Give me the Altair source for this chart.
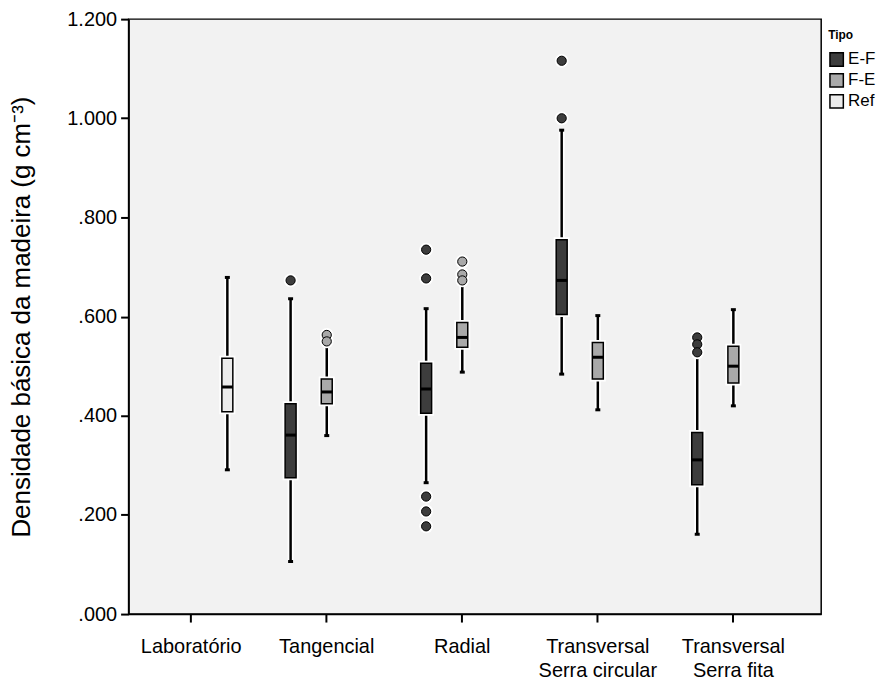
import altair as alt
import pandas as pd

categories = ["Laboratório", "Tangencial", "Radial", "Transversal\nSerra circular", "Transversal\nSerra fita"]
types = ["E-F", "F-E", "Ref"]
colors = ["#3d3d3d", "#a9a9a9", "#ececec"]

# box statistics
box_cat = ["Laboratório", "Tangencial", "Tangencial", "Radial", "Radial",
           "Transversal\nSerra circular", "Transversal\nSerra circular",
           "Transversal\nSerra fita", "Transversal\nSerra fita"]
box_type = ["Ref", "E-F", "F-E", "E-F", "F-E", "E-F", "F-E", "E-F", "F-E"]
whisk_lo = [0.291, 0.106, 0.360, 0.265, 0.488, 0.484, 0.412, 0.161, 0.420]
q1 = [0.408, 0.275, 0.424, 0.405, 0.538, 0.604, 0.474, 0.261, 0.466]
med = [0.458, 0.361, 0.448, 0.454, 0.558, 0.673, 0.518, 0.311, 0.500]
q3 = [0.516, 0.424, 0.474, 0.506, 0.588, 0.755, 0.548, 0.366, 0.540]
whisk_hi = [0.679, 0.636, 0.542, 0.616, 0.665, 0.976, 0.602, 0.520, 0.614]

# outliers
out_cat = ["Tangencial", "Tangencial", "Tangencial",
           "Radial", "Radial", "Radial", "Radial", "Radial",
           "Radial", "Radial", "Radial",
           "Transversal\nSerra circular", "Transversal\nSerra circular",
           "Transversal\nSerra fita", "Transversal\nSerra fita", "Transversal\nSerra fita"]
out_type = ["E-F", "F-E", "F-E",
            "E-F", "E-F", "E-F", "E-F", "E-F",
            "F-E", "F-E", "F-E",
            "E-F", "E-F",
            "E-F", "E-F", "E-F"]
out_val = [0.673, 0.563, 0.550,
           0.735, 0.677, 0.237, 0.207, 0.177,
           0.711, 0.685, 0.673,
           1.116, 1.000,
           0.558, 0.544, 0.528]

boxes = pd.DataFrame({"cat": box_cat, "type": box_type, "lo": whisk_lo, "q1": q1,
                      "med": med, "q3": q3, "hi": whisk_hi})
outs = pd.DataFrame({"cat": out_cat, "type": out_type, "val": out_val})

FONT = "Liberation Sans"

x_enc = alt.X("cat:N", sort=categories,
              scale=alt.Scale(domain=categories, paddingInner=0.2, paddingOuter=0.155, align=0.2),
              axis=alt.Axis(title=None, labelAngle=0, labelExpr="split(datum.label, '\\n')",
                            labelFontSize=20, labelColor="black", labelLineHeight=24,
                            labelPadding=15, tickSize=8, tickColor="black", tickWidth=2,
                            domainColor="black", domainWidth=1.5, labelFont=FONT))
xo_enc = alt.XOffset("type:N", scale=alt.Scale(domain=types))
y_scale = alt.Scale(domain=[0, 1.2], nice=False, zero=True)
y_axis = alt.Axis(title="Densidade básica da madeira (g cm⁻³)", values=[0, 0.2, 0.4, 0.6, 0.8, 1.0, 1.2],
                  labelExpr="datum.value < 1 ? substring(format(datum.value, '.3f'), 1) : format(datum.value, '.3f')",
                  labelFontSize=20, labelColor="black", tickSize=8, tickColor="black", tickWidth=2,
                  labelPadding=4,
                  domainColor="black", domainWidth=1.5, grid=False, titleFontSize=26,
                  titleFontWeight="normal", titleColor="black", titlePadding=32,
                  labelFont=FONT, titleFont=FONT)
color_enc = alt.Color("type:N", scale=alt.Scale(domain=types, range=colors),
                      legend=alt.Legend(title="Tipo", titleFontSize=12, titleFontWeight="bold",
                                        labelFontSize=17, labelColor="black", titleColor="black",
                                        symbolType="square", symbolSize=180, symbolStrokeColor="black",
                                        symbolStrokeWidth=1.5, rowPadding=0, titlePadding=9,
                                        labelOffset=3,
                                        orient="none", legendX=702, legendY=11,
                                        labelFont=FONT, titleFont=FONT))

base = alt.Chart(boxes).encode(x=x_enc, xOffset=xo_enc)

whisk_halo = base.mark_rule(color="white", strokeWidth=6).encode(
    y=alt.Y("lo:Q", scale=y_scale, axis=y_axis), y2="hi:Q")
whisk = base.mark_rule(color="black", strokeWidth=2.5).encode(
    y=alt.Y("lo:Q", scale=y_scale, axis=y_axis), y2="hi:Q")
cap_lo = base.mark_tick(color="black", size=5, thickness=3, opacity=1).encode(
    y=alt.Y("lo:Q", scale=y_scale, axis=y_axis))
cap_hi = base.mark_tick(color="black", size=5, thickness=3, opacity=1).encode(
    y=alt.Y("hi:Q", scale=y_scale, axis=y_axis))
box_halo = base.mark_bar(width=11, stroke="white", strokeWidth=5, fill="white").encode(
    y=alt.Y("q1:Q", scale=y_scale, axis=y_axis), y2="q3:Q")
box = base.mark_bar(width=11, stroke="black", strokeWidth=1.5, opacity=1).encode(
    y=alt.Y("q1:Q", scale=y_scale, axis=y_axis), y2="q3:Q", color=color_enc)
median = base.mark_tick(color="black", size=11, thickness=3, opacity=1).encode(
    y=alt.Y("med:Q", scale=y_scale, axis=y_axis))

obase = alt.Chart(outs).encode(x=x_enc, xOffset=xo_enc,
                               y=alt.Y("val:Q", scale=y_scale, axis=y_axis))
out_halo = obase.mark_point(filled=True, color="white", size=190, opacity=1)
out_pts = obase.mark_point(filled=True, size=85, stroke="black", strokeWidth=1, opacity=1).encode(
    fill=alt.Fill("type:N", scale=alt.Scale(domain=types, range=colors), legend=None))

chart = alt.layer(whisk_halo, whisk, cap_lo, cap_hi, box_halo, box, median, out_halo, out_pts).properties(
    width=695, height=597,
    background="white",
    padding={"left": 0, "top": 0, "right": 2, "bottom": 2},
).configure_view(fill="#f2f2f2", stroke="black", strokeWidth=1.5)

chart.save("out.html", embed_options={"renderer": "svg", "actions": False})
